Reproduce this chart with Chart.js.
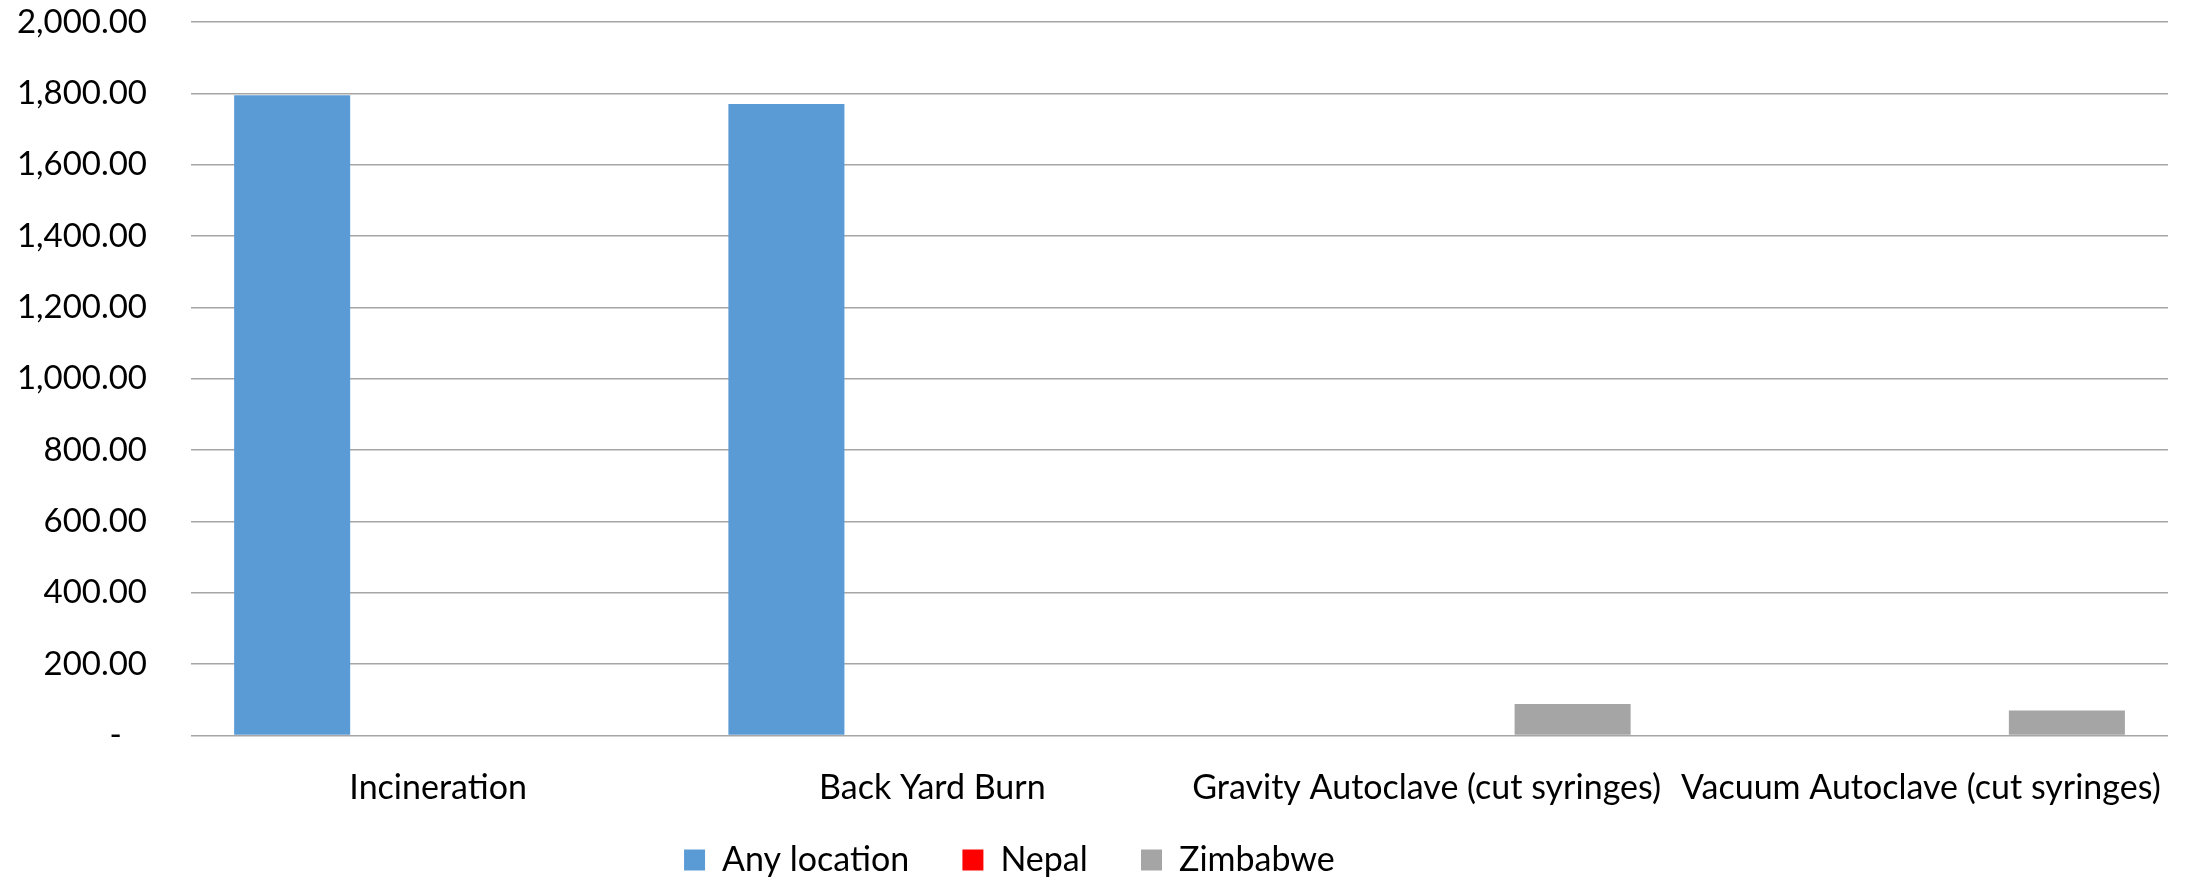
<!DOCTYPE html>
<html>
<head>
<meta charset="utf-8">
<script src="https://cdn.jsdelivr.net/npm/chart.js@4/dist/chart.umd.min.js"></script>
<style>
  html, body { margin: 0; padding: 0; background: #fff; }
  #wrap { width: 2187px; height: 878px; }
</style>
</head>
<body>
<div id="wrap"><canvas id="chart"></canvas></div>
<script>
// Cost per method, by location
const categories = [
  "Incineration",
  "Back Yard Burn",
  "Gravity Autoclave (cut syringes)",
  "Vacuum Autoclave (cut syringes)",
];
const anyLocation = [1795, 1770, 0, 0];
const nepal = [0, 0, 0, 0];
const zimbabwe = [0, 0, 88, 70];

const BLUE = "#5b9bd5";
const RED = "#ff0000";
const GREY = "#a5a5a5";
const GRID = "#a6a6a6";

function fmt(v) {
  if (v === 0) return "-   ";
  return v.toLocaleString("en-US", { minimumFractionDigits: 2, maximumFractionDigits: 2 });
}

// the legend sits a bit left of centre and lower in the original
const moveLegend = {
  id: "moveLegend",
  afterLayout(chart) {
    const l = chart.legend;
    l.left -= 49;
    l.right -= 49;
    l.top += 9;
    l.bottom += 9;
  },
};

Chart.defaults.font.family = "Lato";
Chart.defaults.color = "#000";

const baseLabels = Chart.defaults.plugins.legend.labels.generateLabels;

new Chart(document.getElementById("chart"), {
  type: "bar",
  data: {
    labels: categories,
    datasets: [
      { label: "Any location", data: anyLocation, backgroundColor: BLUE },
      { label: "Nepal", data: nepal, backgroundColor: RED },
      { label: "Zimbabwe", data: zimbabwe, backgroundColor: GREY },
    ],
  },
  options: {
    responsive: true,
    maintainAspectRatio: false,
    animation: false,
    layout: { padding: { left: 0, right: 18, top: 22, bottom: 0 } },
    datasets: {
      bar: { categoryPercentage: 0.886, barPercentage: 0.795, borderWidth: 0 },
    },
    plugins: {
      legend: {
        position: "bottom",
        labels: {
          font: { size: 34 },
          boxWidth: 21,
          boxHeight: 21,
          padding: 1,
          color: "#000",
          // trailing spaces keep the gap between entries without a tall legend box
          generateLabels: (chart) =>
            baseLabels(chart).map((l) => ({ ...l, text: l.text + "      " })),
        },
      },
      tooltip: { enabled: false },
    },
    scales: {
      x: {
        grid: { display: false },
        border: { display: false },
        ticks: { font: { size: 34 }, color: "#000", maxRotation: 0, minRotation: 0, autoSkip: false, padding: 24 },
        afterFit: (s) => { s.height = 97.5; },
      },
      y: {
        min: 0,
        max: 2000,
        border: { display: false },
        // invisible tick marks give the gap between labels and plot
        grid: { color: GRID, lineWidth: 1.5, drawTicks: true, tickLength: 44, tickColor: "rgba(0,0,0,0)" },
        ticks: { font: { size: 33 }, color: "#000", stepSize: 200, padding: 0, callback: fmt },
        afterFit: (s) => { s.width = 191; },
      },
    },
  },
  plugins: [moveLegend],
});
</script>
</body>
</html>
